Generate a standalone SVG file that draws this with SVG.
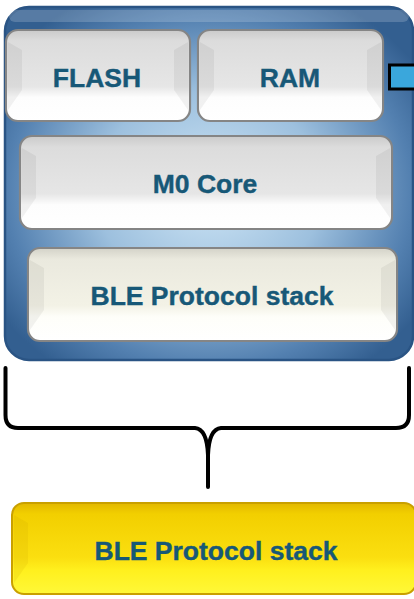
<svg xmlns="http://www.w3.org/2000/svg" width="414" height="599" viewBox="0 0 414 599">
<defs>
<radialGradient id="blueG" cx="50%" cy="52%" r="62%">
<stop offset="0" stop-color="#cfe6f6"/>
<stop offset="0.45" stop-color="#9dc0de"/>
<stop offset="0.8" stop-color="#5380b0"/>
<stop offset="1" stop-color="#335f90"/>
</radialGradient>
<linearGradient id="grayG" x1="0" y1="0" x2="0" y2="1">
<stop offset="0" stop-color="#cacaca"/>
<stop offset="0.12" stop-color="#dcdcdc"/>
<stop offset="0.62" stop-color="#e6e6e6"/>
<stop offset="0.74" stop-color="#fdfdfd"/>
<stop offset="1" stop-color="#ffffff"/>
</linearGradient>
<linearGradient id="creamG" x1="0" y1="0" x2="0" y2="1">
<stop offset="0" stop-color="#d3d2c8"/>
<stop offset="0.12" stop-color="#eae9de"/>
<stop offset="0.62" stop-color="#f3f2e6"/>
<stop offset="0.74" stop-color="#fefef9"/>
<stop offset="1" stop-color="#ffffff"/>
</linearGradient>
<linearGradient id="yellowG" x1="0" y1="0" x2="0" y2="1">
<stop offset="0" stop-color="#e2b800"/>
<stop offset="0.12" stop-color="#f2cf00"/>
<stop offset="0.6" stop-color="#fbdf10"/>
<stop offset="0.74" stop-color="#fff01e"/>
<stop offset="1" stop-color="#fff838"/>
</linearGradient>
<style>
.btn{stroke:#858585;stroke-width:2.2}
.lbl{font-family:"Liberation Sans",Arial,sans-serif;font-weight:bold;font-size:26.5px;fill:#175877;text-anchor:middle;stroke:#175877;stroke-width:0.4}
.side{fill:#000;opacity:0.05}
.brace{fill:none;stroke:#000;stroke-width:4;stroke-linecap:round;stroke-linejoin:round}
</style>
</defs>

<g id="chip">
<rect x="5" y="7" width="408" height="353" rx="24" fill="url(#blueG)" stroke="#2a5484" stroke-width="2.5"/>
<rect x="9" y="10" width="400" height="12" rx="6" fill="#ffffff" opacity="0.18"/>
</g>

<g id="flash">
<rect class="btn" x="6" y="30" width="184" height="91" rx="12" fill="url(#grayG)"/>
<path class="side" d="M8,42 L22,50 L22,90 L8,110 Z"/>
<path class="side" d="M188,42 L174,50 L174,90 L188,110 Z"/>
<text class="lbl" x="97" y="87">FLASH</text>
</g>

<g id="ram">
<rect class="btn" x="198" y="30" width="185" height="91" rx="12" fill="url(#grayG)"/>
<path class="side" d="M200,42 L214,50 L214,90 L200,110 Z"/>
<path class="side" d="M381,42 L367,50 L367,90 L381,110 Z"/>
<text class="lbl" x="290" y="87">RAM</text>
</g>

<g id="port">
<rect x="389.5" y="65" width="30" height="24" fill="#3aa7dc" stroke="#000" stroke-width="3"/>
</g>

<g id="m0core">
<rect class="btn" x="20" y="136" width="372" height="93" rx="12" fill="url(#grayG)"/>
<path class="side" d="M22,148 L36,156 L36,198 L22,218 Z"/>
<path class="side" d="M390,148 L376,156 L376,198 L390,218 Z"/>
<text class="lbl" x="205" y="193">M0 Core</text>
</g>

<g id="ble-inner">
<rect class="btn" x="28" y="248" width="369" height="93" rx="12" fill="url(#creamG)"/>
<path class="side" d="M30,260 L44,268 L44,310 L30,330 Z"/>
<path class="side" d="M395,260 L381,268 L381,310 L395,330 Z"/>
<text class="lbl" x="212" y="305">BLE Protocol stack</text>
</g>

<g id="connectors">
<path class="brace" d="M5.5,368 L5.5,415 Q5.5,428 18,428 L195,428 Q207,429 208,455 L208,487"/>
<path class="brace" d="M409,368 L409,415 Q409,428 396,428 L221,428 Q209,429 208,455"/>
</g>

<g id="ble-stack">
<rect x="12" y="503" width="404" height="91" rx="12" fill="url(#yellowG)" stroke="#c9a000" stroke-width="2"/>
<path d="M14,515 L28,523 L28,563 L14,583 Z" fill="#c9a000" opacity="0.15"/>
<text class="lbl" x="216" y="560">BLE Protocol stack</text>
</g>
</svg>
